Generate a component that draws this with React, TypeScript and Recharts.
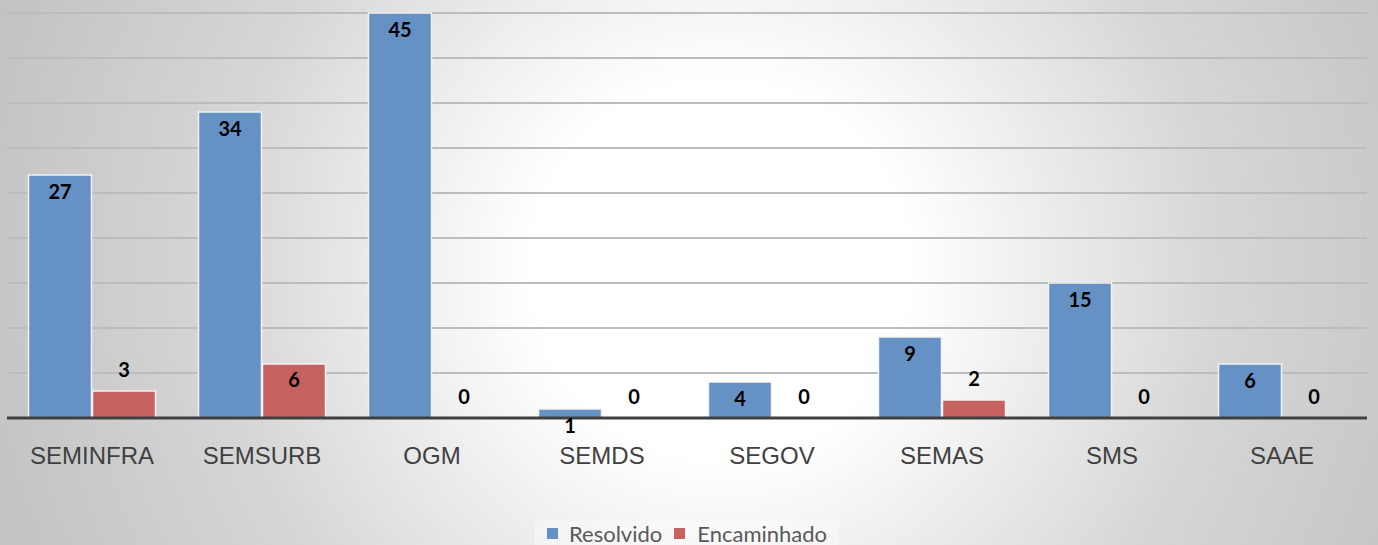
import React from 'react';
import { BarChart, Bar, XAxis, YAxis, CartesianGrid, Legend, LabelList } from 'recharts';

const categories = ['SEMINFRA', 'SEMSURB', 'OGM', 'SEMDS', 'SEGOV', 'SEMAS', 'SMS', 'SAAE'];
const resolvido = [27, 34, 45, 1, 4, 9, 15, 6];
const encaminhado = [3, 6, 0, 0, 0, 2, 0, 0];
const yTicks = [0, 5, 10, 15, 20, 25, 30, 35, 40, 45];

const data = categories.map((name, i) => ({
    name,
    resolvido: resolvido[i],
    encaminhado: encaminhado[i],
}));

const BLUE = '#6691c5';
const RED = '#c5625f';
const labelFont = 'Lato, "Open Sans", sans-serif';

// blue labels sit just inside the top of the bar
const BlueLabel = ({ x, y, width, value }: any) => (
    <text x={x + width / 2} y={y + 19} textAnchor="middle" dominantBaseline="middle"
        fontFamily={labelFont} fontWeight={700} fontSize={20} fill="#000">
        {value}
    </text>
);

// red labels go above small bars, inside larger ones
const RedLabel = ({ x, y, width, value }: any) => (
    <text x={x + width / 2} y={value >= 5 ? y + 18 : y - 19} textAnchor="middle" dominantBaseline="middle"
        fontFamily={labelFont} fontWeight={700} fontSize={20} fill="#000">
        {value}
    </text>
);

const CategoryTick = ({ x, y, payload }: any) => (
    <text x={x} y={y + 46} textAnchor="middle" fontFamily='"Liberation Sans", Arial, sans-serif'
        fontSize={24} fill="#404040">
        {payload.value}
    </text>
);

const LegendContent = () => (
    <div style={{ display: 'flex', justifyContent: 'center', height: 24 }}>
        <div style={{
            display: 'flex', alignItems: 'center', padding: '0 12px',
            background: 'rgba(255,255,255,0.35)', fontFamily: labelFont, fontSize: 22, color: '#595959',
        }}>
            <span style={{ width: 11, height: 11, background: BLUE, marginRight: 11 }} />
            <span style={{ marginRight: 12 }}>Resolvido</span>
            <span style={{ width: 11, height: 11, background: RED, marginRight: 12 }} />
            <span>Encaminhado</span>
        </div>
    </div>
);

export default function App() {
    return (
        <div style={{
            position: 'absolute', left: 0, top: 0, width: 1378, height: 545,
            background: 'radial-gradient(circle at 720px 270px, #ffffff 0px, #ffffff 190px, #d6d6d6 500px, #c3c3c3 760px)',
        }}>
            <BarChart width={1378} height={545} data={data}
                margin={{ top: 13, right: 11, left: 7, bottom: 0 }}
                barCategoryGap={21.5} barGap={1}>
                <CartesianGrid horizontal vertical={false} stroke="#bcbcbc" strokeWidth={2} />
                <YAxis hide domain={[0, 45]} ticks={yTicks} />
                <XAxis dataKey="name" height={103} tickSize={0} tickMargin={0} tickLine={false}
                    axisLine={{ stroke: '#404040', strokeWidth: 3 }} tick={<CategoryTick />} interval={0} />
                <Legend verticalAlign="bottom" content={<LegendContent />} height={24} />
                <Bar dataKey="resolvido" name="Resolvido" fill={BLUE} stroke="#f2f2f2" strokeWidth={1.5}
                    isAnimationActive={false}>
                    <LabelList dataKey="resolvido" content={<BlueLabel />} />
                </Bar>
                <Bar dataKey="encaminhado" name="Encaminhado" fill={RED} stroke="#f2f2f2" strokeWidth={1.5}
                    minPointSize={0.01} isAnimationActive={false}>
                    <LabelList dataKey="encaminhado" content={<RedLabel />} />
                </Bar>
            </BarChart>
        </div>
    );
}
